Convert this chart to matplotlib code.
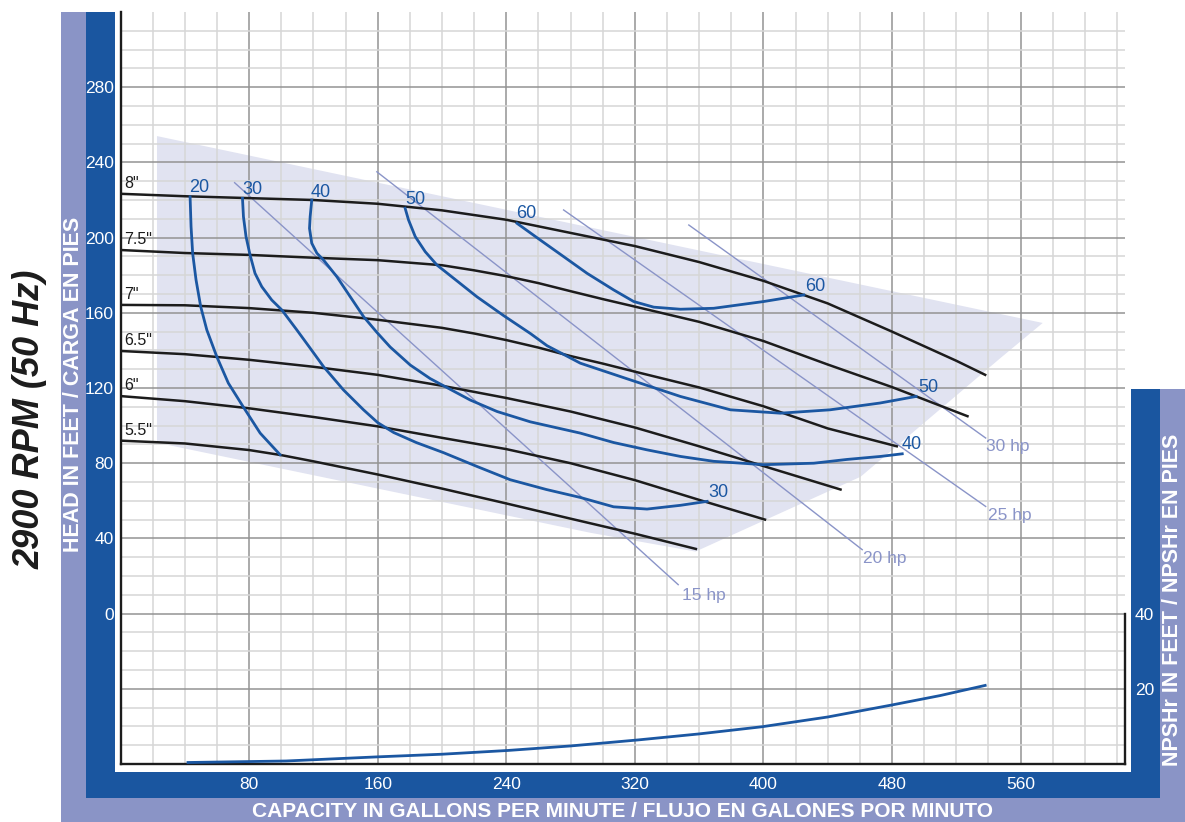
import numpy as np
import matplotlib.pyplot as plt
from matplotlib.patches import Rectangle

plt.rcParams['font.family'] = ['Liberation Sans', 'DejaVu Sans']

# impeller diameter curves (gpm, head ft)
d80_q = [0, 40, 80, 120, 160, 200, 220, 240, 260, 280, 300, 320, 360, 400, 440, 480, 520, 538]
d80_h = [223.3, 222, 221, 220, 218, 214.5, 212, 209.5, 206, 202.5, 199, 195.5, 187, 177, 165, 150, 134.5, 127]
d75_q = [0, 40, 80, 120, 160, 200, 220, 240, 260, 280, 300, 320, 360, 400, 440, 480, 527]
d75_h = [193.4, 191.8, 190.8, 189.3, 188, 185.3, 182.6, 179.5, 175.8, 171.5, 167.3, 163.3, 155.2, 145, 132.5, 120.5, 105]
d70_q = [0, 40, 80, 120, 160, 200, 220, 240, 260, 280, 300, 320, 360, 400, 440, 483]
d70_h = [164.2, 164, 162.5, 160, 156.3, 152, 149, 145.5, 141.5, 137, 133, 128.7, 120.3, 110.3, 98.5, 89]
d65_q = [0, 40, 80, 120, 160, 200, 240, 280, 320, 360, 400, 448]
d65_h = [139.7, 138, 135, 131.3, 127, 121.2, 114.7, 107.5, 99, 89, 78.5, 66]
d60_q = [0, 40, 80, 120, 160, 200, 240, 280, 320, 360, 401]
d60_h = [115.7, 113, 109.2, 104.6, 99.6, 93.5, 87.5, 80, 71, 60.5, 50]
d55_q = [0, 40, 80, 100, 120, 160, 200, 240, 280, 320, 358]
d55_h = [92, 90.5, 87, 84.3, 81, 74, 66.5, 58.6, 50.5, 42.5, 34.4]
diam_labels = ['8"', '7.5"', '7"', '6.5"', '6"', '5.5"']

# efficiency curves (%)
e20_q = [43.3, 43.9, 44.9, 47, 49.9, 53.7, 59.9, 67.1, 76.5, 86.9, 99.3]
e20_h = [221.7, 205.8, 191.6, 177.5, 163.3, 150.9, 136.7, 122.6, 109.8, 96, 84.5]
e30_q = [75.9, 76.5, 78.1, 80.6, 83.7, 87.9, 94.1, 100.4, 109.7, 118, 126.3, 138.7, 151.2,
         160, 170, 184, 201, 222, 242.5, 265, 286, 306.8, 327.6, 348.4, 365]
e30_h = [220.9, 211.1, 200.5, 190.8, 181, 173.9, 166.8, 161.5, 150.9, 141.2, 131.4, 119, 108.4,
         101.6, 96.3, 91, 85.6, 78.2, 71.2, 66, 61.8, 56.8, 55.6, 57.6, 59.7]
e40_q = [119, 118, 117.6, 119, 122.2, 126.3, 134.6, 142.9, 151.2, 159.5, 167.8, 180.3, 192.7, 201,
         217.6, 234.3, 255, 286.1, 306.8, 327.6, 348.4, 369.1, 400.2, 431.4, 452, 472.9, 486.4]
e40_h = [220, 211.1, 204.9, 197, 191.7, 188.1, 179.2, 168.6, 158, 149.6, 141.8, 132.2, 125, 121.2,
         113.6, 107.5, 102, 96, 91, 87.1, 83.6, 81, 79.2, 80, 82, 83.6, 85]
e50_q = [177.1, 179.2, 183.4, 189.6, 196.9, 209.3, 221.8, 238.4, 255, 265.4, 286.1, 317.3, 348.4,
         379.5, 410.6, 441.5, 472.5, 495]
e50_h = [215.6, 209.4, 200.5, 192.5, 185.4, 177, 168.5, 158.5, 149, 142.5, 133.2, 124.3, 115.5,
         108.4, 106.6, 108.4, 112, 115.5]
e60_q = [246.7, 261.2, 275.7, 290.3, 306.8, 319.3, 331.8, 348.4, 369.1, 400.2, 425.2]
e60_h = [207.6, 198.7, 189.9, 181, 172.2, 166, 163, 161.9, 162.4, 166, 169.5]

# horsepower lines (start, end)
hp_names = ['15 hp', '20 hp', '25 hp', '30 hp']
hp_q = [[71, 347], [159.5, 461.5], [275.7, 538.3], [353.6, 538.3]]
hp_h = [[229.2, 15.4], [235, 34], [214.7, 57], [206.7, 93.4]]

# operating region
shade_q = [22.7, 573.8, 547.6, 460.5, 357.8, 292.3, 22.7]
shade_h = [254, 154.6, 136, 72.8, 33, 43, 90.9]

# NPSHr
npsh_q = [42, 103, 160, 200, 241, 280, 322, 360, 399, 440, 480, 510, 538]
npsh_v = [0.4, 0.8, 1.9, 2.6, 3.6, 4.8, 6.4, 8, 9.9, 12.5, 15.7, 18.2, 20.9]

BLACK = '#1c1c1c'
BLUE = '#1b57a2'
HPC = '#8a94c8'
DARK = '#1a56a0'
LIGHT = '#8a94c6'

W, H = 1185, 822
fig = plt.figure(figsize=(W / 100, H / 100), dpi=100)


def band(x0, y0, x1, y1, c):
    fig.add_artist(Rectangle((x0 / W, 1 - y1 / H), (x1 - x0) / W, (y1 - y0) / H,
                             transform=fig.transFigure, color=c, lw=0, zorder=0))


band(60.7, 12, 86, 822, LIGHT)
band(60.7, 798, 1185, 822, LIGHT)
band(1160, 389, 1185, 822, LIGHT)
band(86, 12, 115, 798, DARK)
band(86, 771.5, 1160, 798, DARK)
band(1131, 389, 1160, 798, DARK)

ax = fig.add_axes([120.5 / W, 1 - 764 / H, 1004.5 / W, 752 / H])
ax.set_xlim(0, 625)
ax.set_ylim(-80, 320)

ax.fill(shade_q, shade_h, color='#e1e3f1', lw=0, zorder=0.2)

ax.set_axisbelow(True)
ax.set_xticks(range(80, 561, 80))
ax.set_xticks(np.arange(0, 621, 20), minor=True)
ax.set_yticks(range(-40, 281, 40))
ax.set_yticklabels([''] + [str(v) for v in range(0, 281, 40)])
ax.set_yticks(np.arange(-70, 320, 10), minor=True)
ax.grid(which='major', color='#939393', lw=1.1)
ax.grid(which='minor', color='#d6d6d6', lw=1.1)
ax.tick_params(which='both', length=0, colors='white', labelsize=12.5)
ax.tick_params(axis='y', pad=5)
ax.tick_params(axis='x', pad=9)

for s in ['left', 'bottom', 'right']:
    ax.spines[s].set_color(BLACK)
    ax.spines[s].set_linewidth(1.7)
ax.spines['top'].set_visible(False)
ax.spines['right'].set_bounds(-80, 0)

curves = [(d80_q, d80_h), (d75_q, d75_h), (d70_q, d70_h),
          (d65_q, d65_h), (d60_q, d60_h), (d55_q, d55_h)]
for (q, h), lab in zip(curves, diam_labels):
    ax.plot(q, h, color=BLACK, lw=1.8, zorder=3, solid_joinstyle='round')
    ax.text(2.5, h[0] + 1.6, lab, fontsize=11.5, color=BLACK, ha='left', va='bottom', zorder=4)

for q, h in [(e20_q, e20_h), (e30_q, e30_h), (e40_q, e40_h), (e50_q, e50_h), (e60_q, e60_h)]:
    ax.plot(q, h, color=BLUE, lw=2.0, zorder=3, solid_joinstyle='round')

eff_labels = [('20', 48.9, 226.4), ('30', 81.9, 225.8), ('40', 124.8, 224.2),
              ('50', 183.4, 220.5), ('60', 252.5, 213), ('60', 432.5, 173.8),
              ('50', 502.8, 120), ('40', 492.2, 89.8), ('30', 372.1, 64.3)]
for t, x, y in eff_labels:
    ax.text(x, y, t, fontsize=13, color=BLUE, ha='center', va='center', zorder=4)

hp_text_pos = [(349.6, 9.6), (462, 29.2), (539.5, 52), (538.3, 88.7)]
for name, q, h, (tx, ty) in zip(hp_names, hp_q, hp_h, hp_text_pos):
    ax.plot(q, h, color=HPC, lw=1.0, zorder=2.5)
    ax.text(tx, ty, name, fontsize=12.5, color=HPC, ha='left', va='center', zorder=4)

ax2 = ax.twinx()
ax2.set_ylim(0, 200)
ax2.plot(npsh_q, npsh_v, color=BLUE, lw=2.0)
ax2.set_yticks([20, 40])
ax2.tick_params(length=0, colors='white', labelsize=12.5, pad=7)
for s in ax2.spines.values():
    s.set_visible(False)

fig.text(30 / W, 1 - 419 / H, '2900 RPM (50 Hz)', rotation=90, fontsize=26,
         fontweight='bold', style='italic', ha='center', va='center', color=BLACK)
fig.text(73.5 / W, 1 - 384 / H, 'HEAD IN FEET / CARGA EN PIES', rotation=90, fontsize=15.5,
         fontweight='bold', color='white', ha='center', va='center')
fig.text(623 / W, 1 - 811 / H, 'CAPACITY IN GALLONS PER MINUTE / FLUJO EN GALONES POR MINUTO',
         fontsize=15, fontweight='bold', color='white', ha='center', va='center')
fig.text(1172.5 / W, 1 - 600 / H, 'NPSHr IN FEET / NPSHr EN PIES', rotation=90, fontsize=15.5,
         fontweight='bold', color='white', ha='center', va='center')

fig.savefig('out.png', dpi=100)
